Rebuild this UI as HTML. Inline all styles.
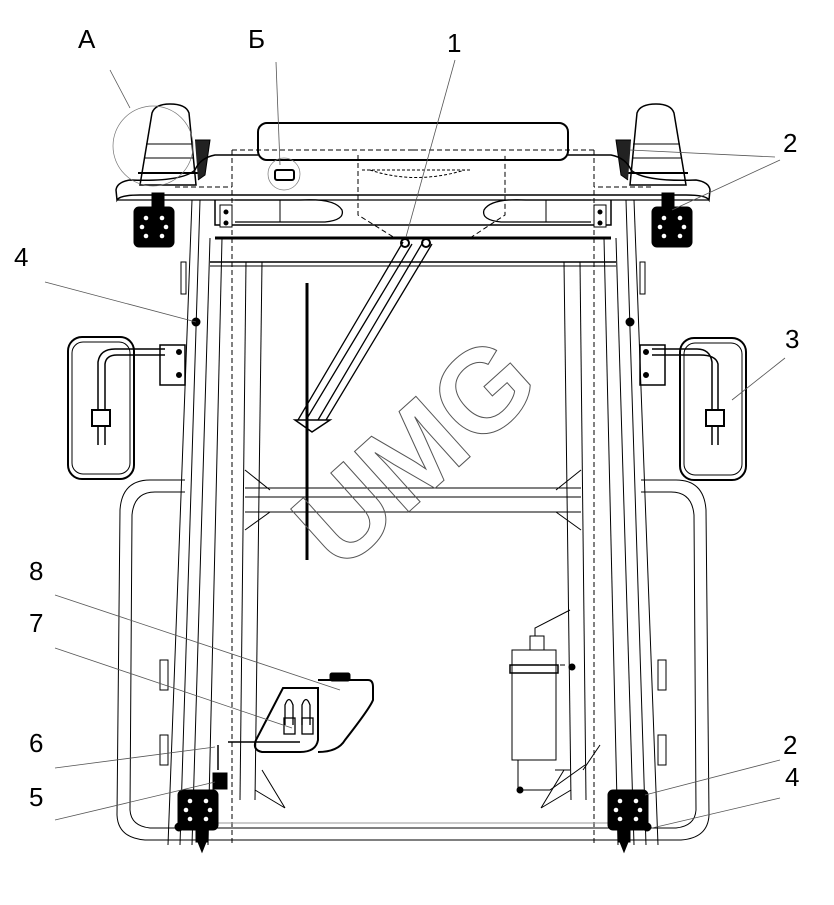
<!DOCTYPE html>
<html><head><meta charset="utf-8"><style>
html,body{margin:0;padding:0;background:#fff;width:834px;height:905px;overflow:hidden}
svg{display:block}
.t{font-family:"Liberation Sans",sans-serif;font-size:26px;font-weight:normal;fill:#000}
</style></head><body>
<svg width="834" height="905" viewBox="0 0 834 905" xmlns="http://www.w3.org/2000/svg">
<defs>
<g id="half" fill="none" stroke="#000" stroke-width="1">
  <path d="M152,113 Q155,104 170,104 Q186,104 189,113 L196,185 L140,185 Z" stroke-width="1.5"/>
  <line x1="146" y1="144" x2="193" y2="144"/>
  <line x1="144" y1="158" x2="194" y2="158"/>
  <path d="M138,173 L198,173" stroke-width="2"/>
  <path d="M195,140 L210,140 L205,175 L198,180" fill="#222"/>
  <path d="M258,155 L215,155 Q200,158 195,170 Q182,182 130,180 Q117,182 116,190 L117,200 Q120,195 140,195 L413,195" stroke-width="1.5"/>
  <path d="M117,200 L413,200" stroke-width="1.2"/>
  <path d="M232,150 L232,845" stroke-dasharray="5,3"/>
  <path d="M232,150 L413,150" stroke-dasharray="5,3"/>
  <path d="M175,187 L232,187" stroke-dasharray="5,3"/>
  <path d="M215,200 L215,225 L413,225" stroke-width="1.5"/>
  <line x1="215" y1="238" x2="413" y2="238" stroke-width="3"/>
  <path d="M235,222 L325,222 Q345,220 342,210 Q335,198 300,200 L235,200" stroke-width="1.3"/>
  <line x1="280" y1="200" x2="280" y2="222"/>
  <rect x="220" y="205" width="12" height="22" fill="#fff"/>
  <circle cx="226" cy="212" r="2" fill="#000"/><circle cx="226" cy="223" r="2" fill="#000"/>
  <rect x="152" y="193" width="12" height="16" fill="#000"/>
  <rect x="134" y="207" width="40" height="40" rx="5" fill="#000"/>
  <g fill="#fff" stroke="none"><circle cx="146" cy="218" r="2.3"/><circle cx="162" cy="218" r="2.3"/><circle cx="142" cy="227" r="2.3"/><circle cx="166" cy="227" r="2.3"/><circle cx="146" cy="236" r="2.3"/><circle cx="162" cy="236" r="2.3"/></g>
  <line x1="192" y1="200" x2="168" y2="845"/>
  <line x1="200" y1="200" x2="180" y2="845"/>
  <line x1="210" y1="238" x2="192" y2="845"/>
  <line x1="222" y1="238" x2="208" y2="845"/>
  <line x1="246" y1="262" x2="240" y2="800"/>
  <line x1="262" y1="262" x2="255" y2="800"/>
  <line x1="210" y1="262" x2="413" y2="262" stroke-width="1.5"/>
  <line x1="210" y1="266" x2="413" y2="266"/>
  <rect x="181" y="262" width="5" height="32"/>
  <rect x="160" y="660" width="8" height="30"/>
  <rect x="160" y="735" width="8" height="30"/>
  <path d="M185,480 L150,480 Q122,480 120,510 L117,815 Q118,838 145,840 L413,840" />
  <path d="M185,492 L155,492 Q134,492 132,515 L130,810 Q131,826 150,828 L413,828"/>
  <line x1="180" y1="823" x2="413" y2="823" stroke="#999" stroke-width="1"/>
  <line x1="245" y1="488" x2="413" y2="488"/>
  <line x1="245" y1="497" x2="413" y2="497"/>
  <line x1="245" y1="512" x2="413" y2="512"/>
  <path d="M245,470 L270,490 M245,530 L270,512"/>
  <path d="M255,790 L285,808 M262,770 L285,808"/>
  <rect x="178" y="790" width="40" height="40" rx="5" fill="#000"/>
  <g fill="#fff" stroke="none"><circle cx="190" cy="801" r="2.3"/><circle cx="206" cy="801" r="2.3"/><circle cx="186" cy="810" r="2.3"/><circle cx="210" cy="810" r="2.3"/><circle cx="190" cy="819" r="2.3"/><circle cx="206" cy="819" r="2.3"/></g>
  <rect x="196" y="830" width="12" height="12" fill="#000"/>
  <path d="M198,842 L206,842 L202,852 Z" fill="#000"/>
  <circle cx="179" cy="827" r="4" fill="#000"/>
  <circle cx="196" cy="322" r="4" fill="#000"/>
</g>
</defs>
<use href="#half"/>
<use href="#half" transform="translate(826,0) scale(-1,1)"/>
<g fill="none" stroke="#000">
  <rect x="258" y="123" width="310" height="37" rx="9" stroke-width="2"/>
  <path d="M358,155 L358,215 L395,238 M470,238 L505,215 L505,155" stroke-dasharray="5,3"/>
  <path d="M362,170 L470,170 M370,170 Q415,185 465,170" stroke-dasharray="3,2"/>
  <circle cx="284" cy="174" r="16" stroke="#777" stroke-width="0.7"/>
  <rect x="275" y="170" width="19" height="10" rx="2" stroke-width="2"/>
  <circle cx="153" cy="146" r="40" stroke="#777" stroke-width="0.7"/>
  <line x1="307" y1="283" x2="307" y2="560" stroke-width="3"/>
  <path d="M403,242 L298,420 M412,244 L306,420 M423,242 L318,420 M432,244 L326,420" stroke-width="1.3"/>
  <circle cx="405" cy="243" r="4" stroke-width="2"/><circle cx="426" cy="243" r="4" stroke-width="2"/>
  <path d="M295,420 L330,420 L318,428 L312,432 Z" stroke-width="1.5"/>
  <rect x="68" y="337" width="66" height="142" rx="14" stroke-width="2"/>
  <rect x="72" y="342" width="58" height="132" rx="11"/>
  <path d="M98,445 L98,362 Q100,349 115,349 L165,349 M105,445 L105,364 Q106,355 117,355 L165,355" stroke-width="1.5"/>
  <rect x="92" y="410" width="18" height="16" fill="#fff" stroke-width="2"/>
  <rect x="160" y="345" width="25" height="40" stroke-width="1.5"/>
  <circle cx="179" cy="352" r="2.5" fill="#000"/><circle cx="179" cy="375" r="2.5" fill="#000"/>
  <rect x="680" y="338" width="66" height="142" rx="14" stroke-width="2"/>
  <rect x="684" y="343" width="58" height="132" rx="11"/>
  <path d="M712,445 L712,362 Q710,349 697,349 L652,349 M718,445 L718,364 Q716,355 700,355 L652,355" stroke-width="1.5"/>
  <rect x="706" y="410" width="18" height="16" fill="#fff" stroke-width="2"/>
  <rect x="640" y="345" width="25" height="40" stroke-width="1.5"/>
  <circle cx="646" cy="352" r="2.5" fill="#000"/><circle cx="646" cy="375" r="2.5" fill="#000"/>
  <path d="M283,688 L318,688 L318,740 Q316,752 300,752 L262,752 Q252,750 256,740 Z" stroke-width="2"/>
  <path d="M318,680 L368,680 Q373,680 373,687 L373,700 Q370,708 345,740 Q338,752 318,752" stroke-width="2"/>
  <rect x="330" y="673" width="20" height="8" rx="2" fill="#000"/>
  <path d="M285,725 L285,705 Q289,694 293,705 L293,725 M302,725 L302,705 Q306,694 310,705 L310,725" stroke-width="1.3"/>
  <rect x="284" y="718" width="11" height="16" stroke-width="1.3"/><rect x="302" y="718" width="11" height="16" stroke-width="1.3"/>
  <line x1="228" y1="742" x2="300" y2="742" stroke-width="1.5"/>
  <line x1="218" y1="745" x2="218" y2="770" stroke-width="1.5"/>
  <rect x="213" y="773" width="14" height="16" fill="#000"/>
  <rect x="512" y="650" width="44" height="110"/>
  <rect x="510" y="665" width="48" height="8" stroke-width="1.5"/>
  <rect x="530" y="636" width="14" height="14"/>
  <path d="M535,636 L535,628 L570,610"/>
  <line x1="560" y1="665" x2="565" y2="665"/>
  <circle cx="572" cy="667" r="3" fill="#000"/>
  <path d="M518,760 L518,790 M555,770 L570,770 M520,790 L550,790 L585,765"/>
  <circle cx="520" cy="790" r="3" fill="#000"/>
  <path d="M583,770 L600,745"/>
</g>
<text x="0" y="0" transform="translate(442,482) rotate(-42)" text-anchor="middle" font-family="Liberation Sans,sans-serif" font-weight="bold" font-size="118" fill="none" stroke="#555" stroke-width="1">UMG</text>
<g stroke="#555" stroke-width="0.8" fill="none">
  <line x1="110" y1="70" x2="130" y2="108"/>
  <line x1="276" y1="62" x2="280" y2="165"/>
  <line x1="455" y1="60" x2="406" y2="237"/>
  <line x1="775" y1="157" x2="630" y2="150"/>
  <line x1="780" y1="160" x2="672" y2="210"/>
  <line x1="45" y1="282" x2="196" y2="322"/>
  <line x1="785" y1="358" x2="732" y2="400"/>
  <line x1="55" y1="595" x2="340" y2="690"/>
  <line x1="55" y1="648" x2="292" y2="728"/>
  <line x1="55" y1="768" x2="215" y2="747"/>
  <line x1="55" y1="820" x2="215" y2="782"/>
  <line x1="780" y1="760" x2="645" y2="795"/>
  <line x1="780" y1="798" x2="652" y2="828"/>
</g>
<g class="t">
  <text x="78" y="48">А</text>
  <text x="248" y="48">Б</text>
  <text x="447" y="52">1</text>
  <text x="783" y="152">2</text>
  <text x="14" y="266">4</text>
  <text x="785" y="348">3</text>
  <text x="29" y="580">8</text>
  <text x="29" y="632">7</text>
  <text x="29" y="752">6</text>
  <text x="29" y="806">5</text>
  <text x="783" y="754">2</text>
  <text x="785" y="786">4</text>
</g>
</svg>
</body></html>
